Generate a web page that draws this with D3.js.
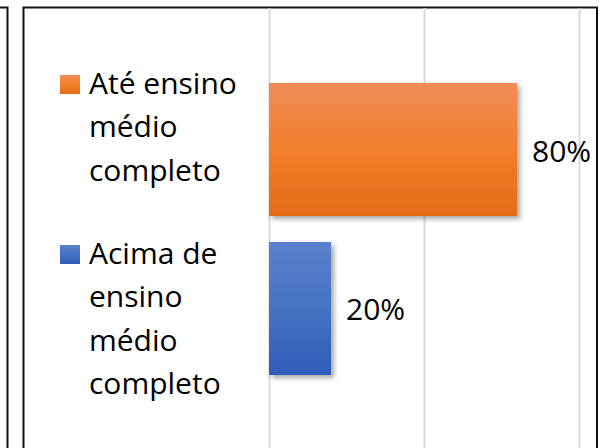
<!DOCTYPE html>
<html>
<head>
<meta charset="utf-8">
<script src="https://cdn.jsdelivr.net/npm/d3@7"></script>
<style>
  body { margin: 0; background: #fff; }
  svg { display: block; font-family: "Open Sans", sans-serif; }
</style>
</head>
<body>
<svg width="602" height="448"></svg>
<script>
const categories = ["Até ensino médio completo", "Acima de ensino médio completo"];
const values = [0.8, 0.2];
const legendLines = [["Até ensino", "médio", "completo"], ["Acima de", "ensino", "médio", "completo"]];
const gridTicks = [0, 0.5, 1];
const colors = [
    { top: "#f18d57", mid: "#f07e2b", bottom: "#e46b18" },
    { top: "#5c81cb", mid: "#4572c4", bottom: "#2f5db8" }
];

const svg = d3.select("svg");
const defs = svg.append("defs");

colors.forEach((c, i) => {
    const g = defs.append("linearGradient")
        .attr("id", "grad" + i)
        .attr("x1", 0).attr("y1", 0).attr("x2", 0).attr("y2", 1);
    g.append("stop").attr("offset", "0%").attr("stop-color", c.top);
    g.append("stop").attr("offset", "50%").attr("stop-color", c.mid);
    g.append("stop").attr("offset", "100%").attr("stop-color", c.bottom);
});

defs.append("filter")
    .attr("id", "shadow")
    .attr("x", "-10%").attr("y", "-10%").attr("width", "130%").attr("height", "130%")
    .append("feDropShadow")
    .attr("dx", 3).attr("dy", 3).attr("stdDeviation", 2.5)
    .attr("flood-color", "#000").attr("flood-opacity", 0.35);

// frames
svg.append("path")
    .attr("d", "M0,7.5 H7.5 V448")
    .attr("fill", "none").attr("stroke", "#111").attr("stroke-width", 2);
svg.append("path")
    .attr("d", "M23.5,448 V7.5 H597 V448")
    .attr("fill", "none").attr("stroke", "#111").attr("stroke-width", 2);

const x = d3.scaleLinear().domain([0, 1]).range([269, 579]);
const y = d3.scaleBand()
    .domain(categories)
    .range([70, 388])
    .paddingInner(0.1635)
    .paddingOuter(0.0818);

// gridlines
svg.append("g")
    .attr("transform", "translate(0,448)")
    .call(d3.axisBottom(x).tickValues(gridTicks).tickSize(-440).tickFormat(""))
    .call(g => g.select(".domain").remove())
    .call(g => g.selectAll(".tick line").attr("stroke", "#d9d9d9").attr("stroke-width", 2));

// bars
svg.selectAll(".bar")
    .data(categories)
    .enter()
    .append("rect")
    .attr("class", "bar")
    .attr("x", x(0))
    .attr("y", d => y(d))
    .attr("width", (d, i) => x(values[i]) - x(0))
    .attr("height", y.bandwidth())
    .attr("fill", (d, i) => `url(#grad${i})`)
    .attr("filter", "url(#shadow)");

// data labels
svg.selectAll(".label")
    .data(categories)
    .enter()
    .append("text")
    .attr("class", "label")
    .attr("x", (d, i) => x(values[i]) + 15)
    .attr("y", d => y(d) + y.bandwidth() / 2 + 12)
    .attr("font-size", 30)
    .attr("fill", "#000")
    .text((d, i) => d3.format(".0%")(values[i]));

// legend
const lineH = 43.3;
const legendTop = [94, 264];
legendLines.forEach((lines, i) => {
    svg.append("rect")
        .attr("x", 60).attr("y", legendTop[i] - 19)
        .attr("width", 20).attr("height", 19)
        .attr("fill", `url(#grad${i})`);
    const t = svg.append("text")
        .attr("font-size", 30)
        .attr("fill", "#000");
    lines.forEach((ln, k) => {
        t.append("tspan")
            .attr("x", 89)
            .attr("y", legendTop[i] + k * lineH)
            .text(ln);
    });
});
</script>
</body>
</html>
